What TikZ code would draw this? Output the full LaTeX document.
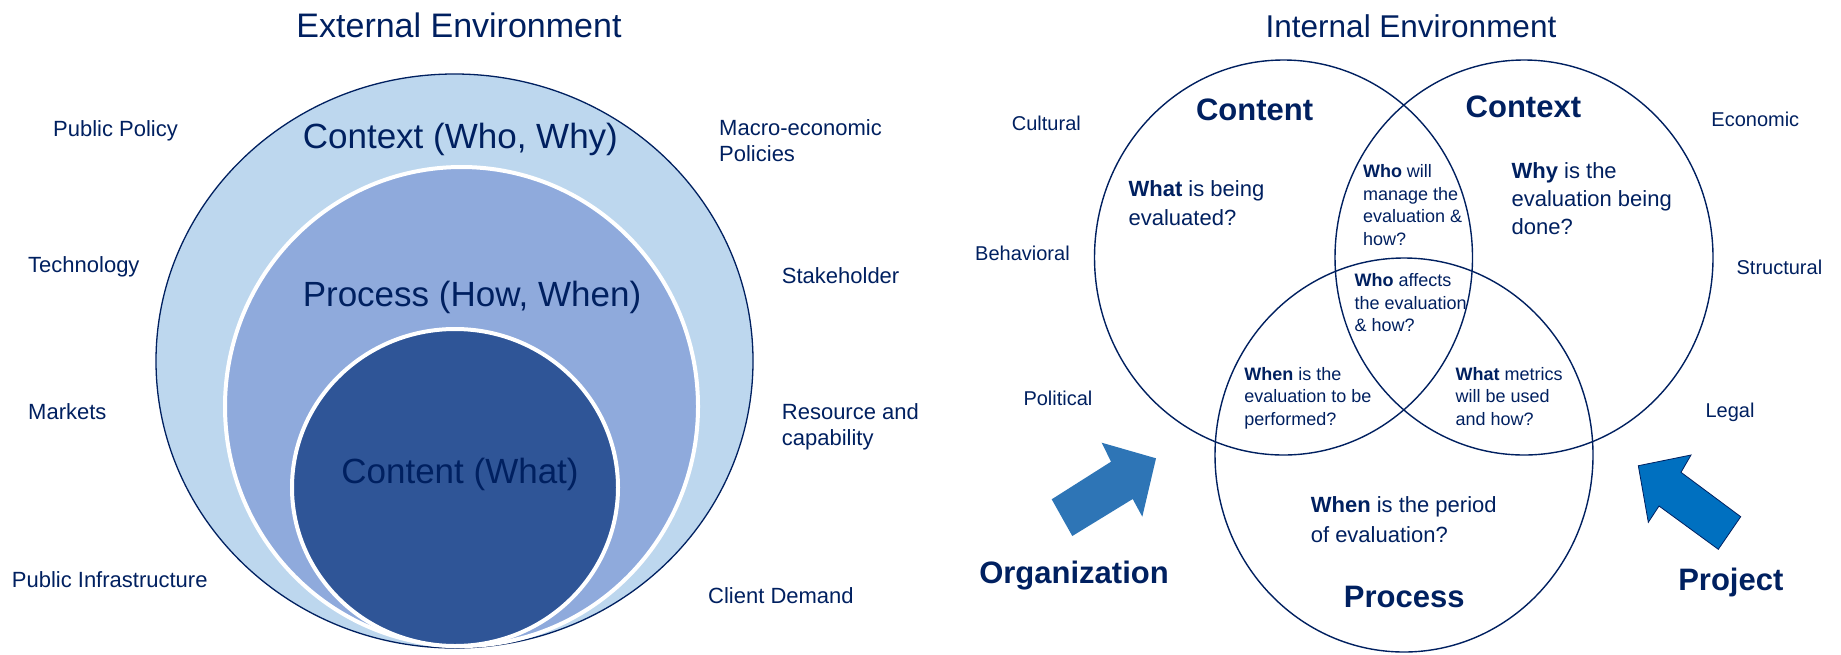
\documentclass[tikz,border=0pt]{standalone}
\usepackage{fontspec}
\setmainfont{Liberation Sans}
\definecolor{navy}{RGB}{0,32,96}
\definecolor{ctxfill}{RGB}{189,215,238}
\definecolor{procfill}{RGB}{143,170,220}
\definecolor{contfill}{RGB}{47,85,151}
\definecolor{orgarrow}{RGB}{46,117,182}
\definecolor{projarrow}{RGB}{0,112,192}
\newcommand{\mlines}[1]{\begin{tabular}[t]{@{}l@{}}#1\end{tabular}}
\begin{document}
\begin{tikzpicture}[x=1pt,y=-1pt,
  bigtitle/.style={font=\fontsize{34}{41}\selectfont, text=navy, inner sep=0pt, anchor=base},
  ringlabel/.style={font=\fontsize{35}{42}\selectfont, text=navy, inner sep=0pt, anchor=base},
  extlabel/.style={font=\fontsize{22}{26}\selectfont, text=navy, inner sep=0pt, anchor=base west},
  intlabel/.style={font=\fontsize{20}{24}\selectfont, text=navy, inner sep=0pt, anchor=base west},
  venntitle/.style={font=\fontsize{31}{37}\selectfont\bfseries, text=navy, inner sep=0pt, anchor=base},
  bigq/.style={font=\fontsize{22}{28.3}\selectfont, text=navy, inner sep=0pt, anchor=base west},
  smallq/.style={font=\fontsize{18}{22.7}\selectfont, text=navy, inner sep=0pt, anchor=base west},
  vennring/.style={draw=navy, line width=1.4pt},
  whitering/.style={draw=white, line width=4pt}
]
\useasboundingbox (0,0) rectangle (1841,654);
\fill[white] (0,0) rectangle (1841,654);

% ---------- left: nested ellipses ----------
\draw[fill=ctxfill, draw=navy, line width=1.3pt] (454.5,361) ellipse [x radius=298.5pt, y radius=287pt];
\draw[fill=procfill, whitering] (461.5,406.5) ellipse [x radius=236.5pt, y radius=239.5pt];
\draw[fill=contfill, whitering] (455,487.5) ellipse [x radius=163pt, y radius=158.5pt];

\node[bigtitle] (exttitle) at (459,37.5) {External Environment};
\node[ringlabel] (ctxlabel) at (460.4,148.3) {Context (Who, Why)};
\node[ringlabel] (proclabel) at (472,306) {Process (How, When)};
\node[ringlabel] (contlabel) at (460,483.3) {Content (What)};

\node[extlabel] (pubpol) at (53,136.4) {Public Policy};
\node[extlabel] (tech) at (28,272) {Technology};
\node[extlabel] (markets) at (28,419) {Markets};
\node[extlabel] (pubinf) at (11.7,587) {Public Infrastructure};
\node[extlabel] (macro) at (719,135.6) {\mlines{Macro-economic\\Policies}};
\node[extlabel] (stake) at (781.7,283) {Stakeholder};
\node[extlabel] (resource) at (781.7,419) {\mlines{Resource and\\capability}};
\node[extlabel] (client) at (708,603.6) {Client Demand};

% ---------- right: Venn diagram ----------
\draw[vennring] (1283.5,257.5) ellipse [x radius=189pt, y radius=197.5pt];
\draw[vennring] (1524,257.5) ellipse [x radius=189pt, y radius=197.5pt];
\draw[vennring] (1404,455) ellipse [x radius=189pt, y radius=197pt];

\node[bigtitle, font=\fontsize{31.5}{38}\selectfont] (inttitle) at (1411,37.5) {Internal Environment};

\node[venntitle] (vcontent) at (1254.6,120.7) {Content};
\node[venntitle] (vcontext) at (1523.4,117.7) {Context};
\node[venntitle] (vprocess) at (1404.3,607.3) {Process};

\node[bigq] (qwhat) at (1128.4,196.7) {\mlines{\textbf{What} is being\\evaluated?}};
\node[bigq] (qwhy) at (1511.4,178.3) {\mlines{\textbf{Why} is the\\evaluation being\\done?}};
\node[smallq] (qmanage) at (1362.8,177.3) {\mlines{\textbf{Who} will\\manage the\\evaluation \&\\how?}};
\node[smallq] (qaffects) at (1354.4,286.5) {\mlines{\textbf{Who} affects\\the evaluation\\\& how?}};
\node[smallq] (qwhen) at (1244.1,380) {\mlines{\textbf{When} is the\\evaluation to be\\performed?}};
\node[smallq] (qmetrics) at (1455.4,380) {\mlines{\textbf{What} metrics\\will be used\\and how?}};
\node[bigq, font=\fontsize{22}{30}\selectfont] (qperiod) at (1310.6,512.3) {\mlines{\textbf{When} is the period\\of evaluation?}};

\node[intlabel] (cultural) at (1011.7,130) {Cultural};
\node[intlabel] (behav) at (975,260) {Behavioral};
\node[intlabel] (polit) at (1023.3,405) {Political};
\node[intlabel] (econ) at (1711.2,126) {Economic};
\node[intlabel] (struct) at (1736.4,274) {Structural};
\node[intlabel] (legal) at (1705.3,417) {Legal};

% arrows
\fill[orgarrow] (1051.7,499.3) -- (1072.3,536) -- (1132.7,499) -- (1142.3,516.7) -- (1156,458.3) -- (1101.7,442.7) -- (1111,461.7) -- cycle;
\draw[fill=projarrow, draw=navy, line width=0.8pt] (1638.3,465.7) -- (1691,455) -- (1681,472.3) -- (1740.7,516.7) -- (1718.3,549.3) -- (1659,506) -- (1648.3,522.3) -- cycle;

\node[venntitle] (org) at (1074,583) {Organization};
\node[venntitle] (proj) at (1730.8,590.7) {Project};
\end{tikzpicture}
\end{document}
